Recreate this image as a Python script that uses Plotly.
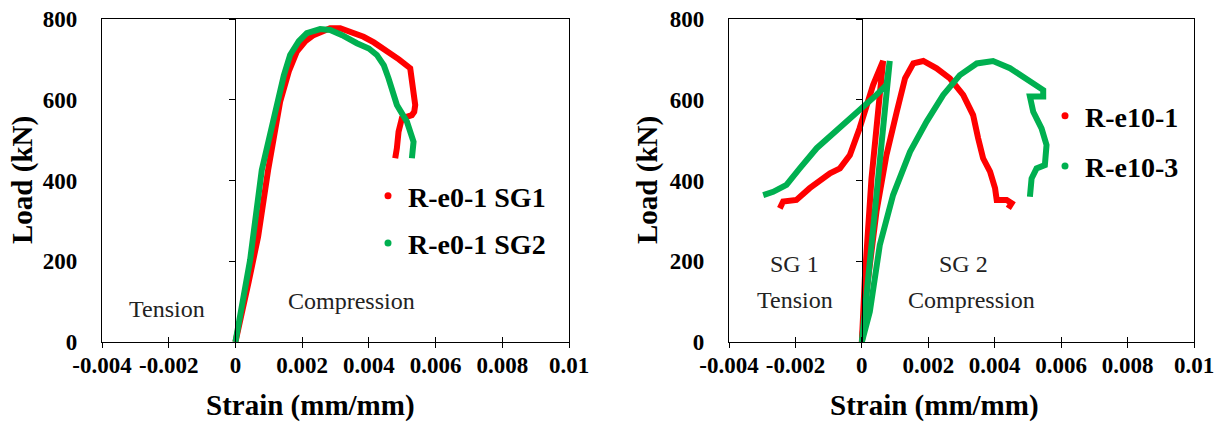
import plotly.graph_objects as go

# ---------------- data ----------------
# Left chart: specimen R-e0-1 (strain in mm/mm, load in kN)
e0_sg1_strain = [0.0, 0.0002, 0.0004, 0.00068, 0.00098, 0.00134, 0.00160, 0.00184, 0.00210, 0.00234, 0.00260,
                 0.00284, 0.00314, 0.00350, 0.00384, 0.00415, 0.00444, 0.00490, 0.00524, 0.00529, 0.00539,
                 0.00536, 0.00529, 0.00499, 0.00489, 0.00484, 0.00479]
e0_sg1_load = [0, 70, 150, 261, 426, 595, 670, 719, 745, 760, 771,
               777, 777, 766, 756, 742, 727, 700, 678, 645, 587,
               570, 562, 554, 521, 480, 455]
e0_sg2_strain = [0.0, 0.00020, 0.00044, 0.00079, 0.00124, 0.00145, 0.00164, 0.00190, 0.00214, 0.00254,
                 0.00284, 0.00320, 0.00364, 0.00400, 0.00424, 0.00445, 0.00459, 0.00470, 0.00484, 0.00500,
                 0.00514, 0.00534, 0.00529]
e0_sg2_load = [0, 90, 203, 426, 595, 660, 711, 745, 765, 775,
               773, 760, 740, 727, 711, 685, 653, 620, 587, 565,
               546, 496, 455]

# Right chart: specimens R-e10-1 and R-e10-3, gauges SG1 and SG2
e10_1_sg1_strain = [0.0, 0.00009, 0.00029, 0.00054, 0.00064, 0.00034, 0.00009, -0.00007, -0.00036, -0.00066,
                    -0.00096, -0.00157, -0.00197, -0.00237, -0.00247]
e10_1_sg1_load = [0, 158, 405, 628, 696, 637, 570, 529, 463, 430,
                  418, 381, 352, 348, 331]
e10_1_sg2_strain = [0.0, 0.00014, 0.00044, 0.00074, 0.00105, 0.00130, 0.00155, 0.00185, 0.00225, 0.00265,
                    0.00305, 0.00335, 0.00350, 0.00365, 0.00386, 0.00401, 0.00406, 0.00436, 0.00451, 0.00441]
e10_1_sg2_load = [0, 125, 323, 463, 570, 653, 690, 696, 678, 653,
                  612, 562, 505, 455, 422, 381, 352, 352, 344, 331]
e10_3_sg1_strain = [0.0, 0.0004, 0.00084, 0.00074, 0.00044, 0.00004, -0.00056, -0.00136, -0.00187, -0.00227,
                    -0.00267, -0.00297]
e10_3_sg1_load = [0, 330, 696, 637, 612, 583, 538, 480, 430, 389,
                  372, 364]
e10_3_sg2_strain = [0.0, 0.00024, 0.00054, 0.00094, 0.00145, 0.00195, 0.00245, 0.00295, 0.00346, 0.00395,
                    0.00446, 0.00496, 0.00546, 0.00546, 0.00506, 0.00516, 0.00541, 0.00556, 0.00551, 0.00526,
                    0.00511, 0.00506]
e10_3_sg2_load = [0, 75, 240, 364, 471, 546, 612, 661, 690, 696,
                  678, 653, 624, 608, 608, 570, 529, 488, 438, 430,
                  405, 360]

x_tickvals = [-0.004, -0.002, 0, 0.002, 0.004, 0.006, 0.008, 0.01]
x_ticktext = ["-0.004", "-0.002", "0", "0.002", "0.004", "0.006", "0.008", "0.01"]
y_tickvals = [0, 200, 400, 600, 800]
y_ticktext = ["0", "200", "400", "600", "800"]

# ---------------- style ----------------
RED = "#FF0000"
GREEN = "#00B050"
SERIF = "Liberation Serif, Times New Roman, serif"
LW = 6

fig = go.Figure()

def add_curve(x, y, color, xa, ya):
    fig.add_trace(go.Scatter(x=x, y=y, mode="lines", line=dict(color=color, width=LW),
                             xaxis=xa, yaxis=ya, showlegend=False, hoverinfo="skip"))

def add_legend_item(name, color, legend, group):
    fig.add_trace(go.Scatter(x=[None], y=[None], mode="markers", name=name,
                             marker=dict(color=color, size=7), legend=legend,
                             legendgroup=group, showlegend=True))

# left
add_curve(e0_sg1_strain, e0_sg1_load, RED, "x", "y")
add_curve(e0_sg2_strain, e0_sg2_load, GREEN, "x", "y")
add_legend_item("R-e0-1 SG1", RED, "legend", "a")
add_legend_item("R-e0-1 SG2", GREEN, "legend", "b")
# right
add_curve(e10_1_sg1_strain, e10_1_sg1_load, RED, "x2", "y2")
add_curve(e10_1_sg2_strain, e10_1_sg2_load, RED, "x2", "y2")
add_curve(e10_3_sg1_strain, e10_3_sg1_load, GREEN, "x2", "y2")
add_curve(e10_3_sg2_strain, e10_3_sg2_load, GREEN, "x2", "y2")
add_legend_item("R-e10-1", RED, "legend2", "c")
add_legend_item("R-e10-3", GREEN, "legend2", "d")

# dummy traces so helper axes get drawn
for xa, ya in [("x3", "y3"), ("x4", "y4"), ("x", "y5"), ("x2", "y6")]:
    fig.add_trace(go.Scatter(x=[None], y=[None], xaxis=xa, yaxis=ya, showlegend=False, hoverinfo="skip"))

W, H = 1224, 422
L_dom = [102 / W, 569 / W]
R_dom = [729 / W, 1194 / W]
Y_dom = [80 / H, 403 / H]
XR = [-0.004, 0.01]
YR = [0, 800]

tickfont = dict(family=SERIF, size=23, color="black", weight="bold")

def xaxis_main(dom, anchor):
    return dict(domain=dom, range=XR, anchor=anchor, tickvals=x_tickvals, ticktext=x_ticktext,
                ticks="outside", ticklen=5, tickwidth=1.3, tickcolor="black",
                showline=True, linecolor="black", linewidth=1.3, mirror=True,
                showgrid=False, zeroline=False, tickfont=tickfont, ticklabelstandoff=-3,
                automargin=False)

def xaxis_inner(over, anchor):
    return dict(overlaying=over, range=XR, anchor=anchor, tickvals=x_tickvals,
                ticks="inside", ticklen=5, tickwidth=1.3, tickcolor="black",
                showticklabels=False, showline=False, showgrid=False, zeroline=False,
                automargin=False)

def yaxis_main(dom, anchor):
    return dict(domain=dom, range=YR, anchor=anchor, tickvals=y_tickvals, ticktext=y_ticktext,
                ticks="", showline=True, linecolor="black", linewidth=1.3, mirror=True,
                showgrid=False, zeroline=False, tickfont=tickfont, ticklabelstandoff=19,
                automargin=False)

def yaxis_zero(over, dom_x):
    pos = dom_x[0] + (dom_x[1] - dom_x[0]) * (0 - XR[0]) / (XR[1] - XR[0])
    return dict(overlaying=over, anchor="free", position=pos, range=YR, tickvals=y_tickvals,
                ticks="outside", ticklen=6, tickwidth=1.3, tickcolor="black",
                showticklabels=False, showline=True, linecolor="black", linewidth=1.3,
                showgrid=False, zeroline=False, automargin=False)

legend_font = dict(family=SERIF, size=28, color="black", weight="bold")

fig.update_layout(
    width=W, height=H,
    margin=dict(l=0, r=0, t=0, b=0, autoexpand=False),
    paper_bgcolor="white", plot_bgcolor="white",
    xaxis=xaxis_main(L_dom, "y"),
    yaxis=yaxis_main(Y_dom, "x"),
    xaxis2=xaxis_main(R_dom, "y2"),
    yaxis2=yaxis_main(Y_dom, "x2"),
    xaxis3=xaxis_inner("x", "y"),
    yaxis3=dict(overlaying="y", range=YR, visible=False, automargin=False),
    xaxis4=xaxis_inner("x2", "y2"),
    yaxis4=dict(overlaying="y2", range=YR, visible=False, automargin=False),
    yaxis5=yaxis_zero("y", L_dom),
    yaxis6=yaxis_zero("y2", R_dom),
    legend=dict(x=368 / W, y=1 - 171 / H, xanchor="left", yanchor="top",
                font=legend_font, bgcolor="rgba(0,0,0,0)", tracegroupgap=8,
                traceorder="grouped", itemwidth=30),
    legend2=dict(x=1045 / W, y=1 - 91 / H, xanchor="left", yanchor="top",
                 font=legend_font, bgcolor="rgba(0,0,0,0)", tracegroupgap=11,
                 traceorder="grouped", itemwidth=30),
    showlegend=True,
)

ann_font = dict(family=SERIF, size=24, color="#222222")
title_font = dict(family=SERIF, size=29, color="black", weight="bold")

def ann(text, x, y, xref, yref, font, angle=0):
    return dict(text=text, x=x, y=y, xref=xref, yref=yref, showarrow=False, font=font,
                xanchor="center", yanchor="middle", textangle=angle)

annotations = [
    ann("Tension", -0.00205, 82, "x", "y", ann_font),
    ann("Compression", 0.00347, 102, "x", "y", ann_font),
    ann("SG 1", -0.00202, 193, "x2", "y2", ann_font),
    ann("Tension", -0.00202, 104, "x2", "y2", ann_font),
    ann("SG 2", 0.00307, 193, "x2", "y2", ann_font),
    ann("Compression", 0.00331, 104, "x2", "y2", ann_font),
    # axis titles
    ann("Strain (mm/mm)", 310 / W, 1 - 405 / H, "paper", "paper", title_font),
    ann("Load (kN)", 23 / W, 1 - 180 / H, "paper", "paper", title_font, -90),
    ann("Strain (mm/mm)", 935 / W, 1 - 405 / H, "paper", "paper", title_font),
    ann("Load (kN)", 648 / W, 1 - 180 / H, "paper", "paper", title_font, -90),
]
fig.update_layout(annotations=annotations)

fig.write_html("out.html", post_script="document.body.style.margin='0px';",
               config={"displayModeBar": False})
